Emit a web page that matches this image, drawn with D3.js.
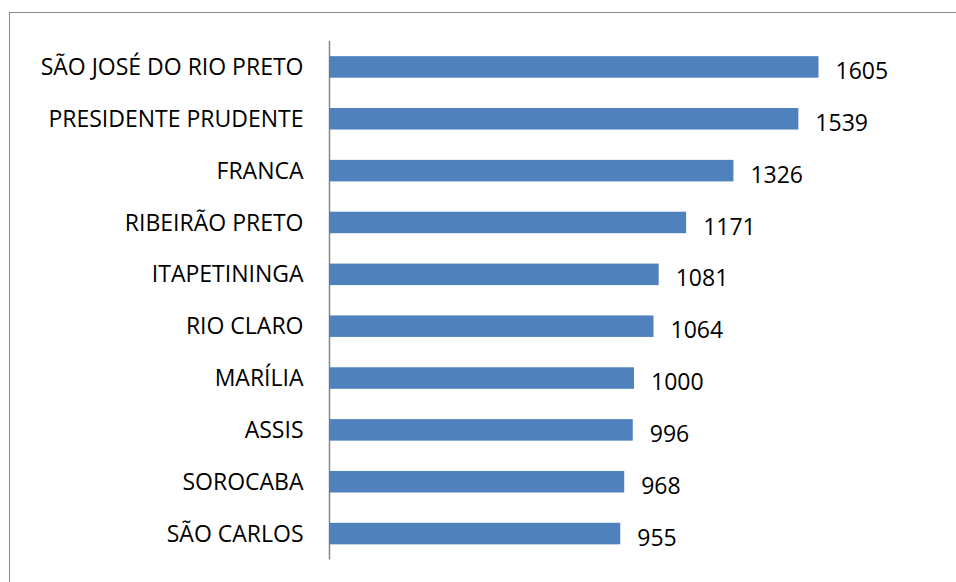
<!DOCTYPE html>
<html>
<head>
<meta charset="utf-8">
<script src="https://cdn.jsdelivr.net/npm/d3@7"></script>
<style>
  body { margin: 0; background: white; }
</style>
</head>
<body>
<div id="chart"></div>
<script>
// regions, top to bottom
const regions = [
  'SÃO JOSÉ DO RIO PRETO',
  'PRESIDENTE PRUDENTE',
  'FRANCA',
  'RIBEIRÃO PRETO',
  'ITAPETININGA',
  'RIO CLARO',
  'MARÍLIA',
  'ASSIS',
  'SOROCABA',
  'SÃO CARLOS'
]
const totals = [1605, 1539, 1326, 1171, 1081, 1064, 1000, 996, 968, 955]

const rows = regions.map((r, i) => ({ region: r, value: totals[i] }))

let width = 956
let height = 582

let svg = d3.select('#chart')
  .append('svg')
    .attr('width', width)
    .attr('height', height)

// chart frame
svg.append('rect')
  .attr('x', 9.5)
  .attr('y', 12.5)
  .attr('width', 960)
  .attr('height', 600)
  .attr('fill', 'white')
  .attr('stroke', '#868686')
  .attr('stroke-width', 1)

let xScale = d3.scaleLinear()
  .domain([0, 1605])
  .range([329, 818.5])

let yScale = d3.scaleBand()
  .domain(regions)
  .range([41, 559.5])
  .paddingInner(0.585)
  .paddingOuter(0.2925)

// category axis
let yAxis = svg.append('g')
  .attr('transform', 'translate(329.5,0)')
  .call(d3.axisLeft(yScale).tickSize(0).tickPadding(26))

yAxis.select('.domain')
  .attr('stroke', '#868686')
  .attr('stroke-width', 1.5)
  .attr('d', 'M0,41V559.5')

yAxis.selectAll('text')
  .style('font-family', 'Open Sans')
  .style('font-size', '23px')
  .attr('fill', 'black')
  .attr('dy', '0.35em')

// bars
svg.selectAll('.bar')
    .data(rows)
  .enter().append('rect')
    .attr('class', 'bar')
    .attr('x', xScale(0))
    .attr('y', d => yScale(d.region))
    .attr('width', d => xScale(d.value) - xScale(0))
    .attr('height', yScale.bandwidth())
    .attr('fill', '#4F81BD')

// value labels
svg.selectAll('.label')
    .data(rows)
  .enter().append('text')
    .attr('class', 'label')
    .attr('x', d => xScale(d.value) + 17)
    .attr('y', d => yScale(d.region) + yScale.bandwidth() / 2 + 4)
    .attr('dy', '0.35em')
    .style('font-family', 'Open Sans')
    .style('font-size', '23px')
    .text(d => d.value)
</script>
</body>
</html>
